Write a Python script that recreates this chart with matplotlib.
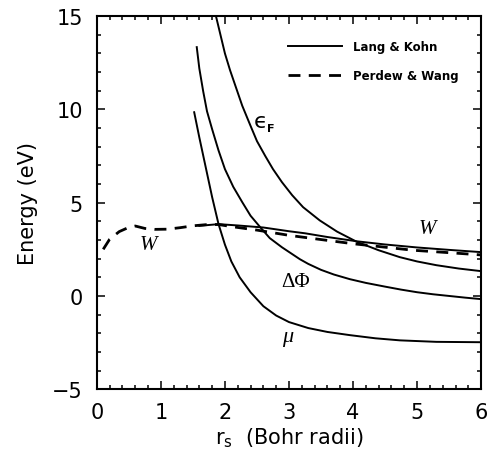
import matplotlib
matplotlib.use("Agg")
import matplotlib.pyplot as plt
from matplotlib.ticker import MultipleLocator

# values (rs in Bohr radii, energy in eV)
ef_rs = [1.86, 1.93, 2.0, 2.08, 2.16, 2.27, 2.39, 2.5, 2.63, 2.75, 2.89, 3.05, 3.22,
         3.48, 3.75, 4.06, 4.4, 4.73, 5.0, 5.3, 5.65, 6.0]
ef_e = [15.0, 14.0, 13.0, 12.1, 11.3, 10.2, 9.2, 8.3, 7.5, 6.8, 6.1, 5.4, 4.76,
        4.05, 3.45, 2.9, 2.45, 2.08, 1.85, 1.65, 1.47, 1.33]

dphi_rs = [1.56, 1.6, 1.66, 1.72, 1.8, 1.9, 2.0, 2.13, 2.27, 2.4, 2.55, 2.7, 2.89,
           3.17, 3.3, 3.5, 3.7, 3.95, 4.2, 4.5, 4.75, 5.0, 5.25, 5.5, 5.75, 6.0]
dphi_e = [13.34, 12.2, 10.98, 9.9, 8.94, 7.8, 6.8, 5.85, 5.03, 4.3, 3.69, 3.1, 2.61,
          1.97, 1.72, 1.4, 1.15, 0.9, 0.7, 0.5, 0.34, 0.2, 0.09, 0.0, -0.09, -0.17]

mu_rs = [1.52, 1.6, 1.7, 1.8, 1.9, 2.0, 2.1, 2.23, 2.4, 2.6, 2.8, 3.0, 3.3, 3.6,
         3.95, 4.35, 4.73, 5.3, 6.0]
mu_e = [9.85, 8.5, 6.9, 5.3, 3.85, 2.75, 1.85, 1.0, 0.2, -0.55, -1.05, -1.4, -1.72,
        -1.93, -2.1, -2.27, -2.38, -2.46, -2.48]

w_lk_rs = [1.6, 1.9, 2.2, 2.6, 3.0, 3.25, 3.6, 4.06, 4.5, 5.0, 5.5, 6.0]
w_lk_e = [3.76, 3.85, 3.78, 3.67, 3.47, 3.36, 3.16, 2.93, 2.76, 2.6, 2.47, 2.35]

w_pw_rs = [0.1, 0.2, 0.35, 0.5, 0.6, 0.75, 0.9, 1.1, 1.3, 1.5, 1.7, 1.9, 2.1, 2.5,
           3.0, 3.33, 4.0, 4.94, 5.5, 6.0]
w_pw_e = [2.5, 3.04, 3.45, 3.68, 3.75, 3.62, 3.57, 3.58, 3.66, 3.76, 3.82, 3.83,
          3.72, 3.53, 3.25, 3.1, 2.8, 2.45, 2.32, 2.2]

plt.rcParams['font.family'] = ['DejaVu Sans']

fig = plt.figure(figsize=(4.89, 4.64), dpi=100)
ax = fig.add_axes([0.198, 0.159, 0.786, 0.804])

lw = 1.4
ax.plot(ef_rs, ef_e, 'k-', lw=lw, label='Lang & Kohn')
ax.plot(dphi_rs, dphi_e, 'k-', lw=lw)
ax.plot(mu_rs, mu_e, 'k-', lw=lw)
ax.plot(w_lk_rs, w_lk_e, 'k-', lw=lw)
ax.plot(w_pw_rs, w_pw_e, 'k--', lw=2.0, dashes=(4.3, 3.0), label='Perdew & Wang')

ax.set_xlim(0, 6)
ax.set_ylim(-5, 15)
ax.xaxis.set_major_locator(MultipleLocator(1))
ax.xaxis.set_minor_locator(MultipleLocator(0.2))
ax.yaxis.set_major_locator(MultipleLocator(5))
ax.yaxis.set_minor_locator(MultipleLocator(1))
ax.tick_params(which='both', direction='in', top=True, right=True, width=1.1)
ax.tick_params(which='major', length=6, labelsize=15)
ax.tick_params(axis='x', which='major', pad=9)
ax.tick_params(axis='y', which='major', pad=10)
ax.tick_params(which='minor', length=3)
for s in ax.spines.values():
    s.set_linewidth(1.5)

ax.set_xlabel(r'r$_\mathregular{s}$  (Bohr radii)', fontsize=15, labelpad=3)
ax.set_ylabel('Energy (eV)', fontsize=15, labelpad=10)

# curve labels
ax.text(2.55, 9.4, '\u03f5', fontsize=16, ha='center', va='center')
ax.text(2.71, 9.0, 'F', fontsize=8, weight='bold', ha='center', va='center')
ax.text(0.8, 2.75, 'W', fontsize=15, family='Liberation Serif', style='italic',
        ha='center', va='center')
ax.text(5.16, 3.6, 'W', fontsize=15, family='Liberation Serif', style='italic',
        ha='center', va='center')
ax.text(3.1, 0.8, '\u0394\u03a6', fontsize=15, family='Liberation Serif',
        ha='center', va='center')
ax.text(2.98, -2.2, '\u03bc', fontsize=16, family='Liberation Serif', style='italic',
        ha='center', va='center')

ax.legend(loc='upper left', bbox_to_anchor=(0.47, 0.965), frameon=False,
          handlelength=4.6, handletextpad=0.9, labelspacing=1.35,
          prop={'family': 'DejaVu Sans', 'weight': 'bold', 'size': 8.5})

fig.savefig('out.png', dpi=100)
